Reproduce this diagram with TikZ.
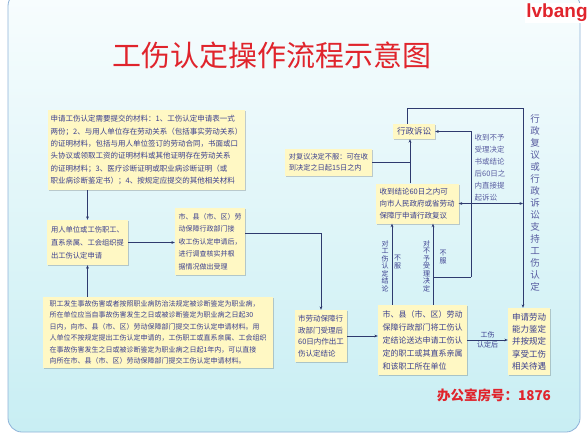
\documentclass[tikz,border=0pt]{standalone}
\usepackage{fontspec}
\setmainfont{Noto Sans CJK SC}
\newfontfamily\latinbold{Liberation Sans}
\usepackage{tikz}
\usetikzlibrary{arrows.meta,positioning,shadows}
\definecolor{boxyellow}{HTML}{FFF8C4}
\definecolor{txtblue}{HTML}{3B3F8F}
\definecolor{linkblue}{HTML}{2E3A6E}
\definecolor{titlered}{HTML}{E0242C}
\definecolor{bgtop}{HTML}{F8FDFE}
\definecolor{bgbottom}{HTML}{C8EEF3}
\definecolor{framec}{HTML}{8FB3D9}

\begin{document}
\begin{tikzpicture}[
      x=1pt, y=-1pt,
      ibox/.style={rectangle, fill=boxyellow, text=txtblue, align=left,
                   inner sep=2pt,
                   drop shadow={shadow xshift=1.3pt, shadow yshift=-1.3pt,
                                fill=black, opacity=0.18}},
      vtext/.style={text=txtblue, align=center, inner sep=0pt,
                    font=\fontsize{7}{7.5}\selectfont},
      lbl/.style={text=txtblue, inner sep=1.5pt,
                  font=\fontsize{7}{8}\selectfont},
      link/.style={-{Stealth[length=3.5pt, width=2.8pt]}, draw=linkblue,
                   line width=0.55pt},
      plainlink/.style={draw=linkblue, line width=0.55pt},
    ]
    \useasboundingbox (0,0) rectangle (588,437);
    \fill[white] (0,0) rectangle (588,437);
    \shadedraw[top color=bgtop, bottom color=bgbottom, draw=framec,
               line width=0.8pt, rounded corners=14pt] (8,-8) rectangle (580,432);

    \node[font=\fontsize{29}{29}\selectfont, text=titlered] (title) at (272,55)
      {工伤认定操作流程示意图};
    \node[font=\latinbold\bfseries\fontsize{19}{19}\selectfont, text=titlered,
          fill=white, inner sep=1pt] (mark) at (557,13) {lvbang};

    % left column
    \node[ibox, minimum width=197pt, minimum height=80pt,
          font=\fontsize{7.5}{12.3}\selectfont] (mat) at (146.5,150)
      {申请工伤认定需要提交的材料：1、工伤认定申请表一式\\
       两份；2、与用人单位存在劳动关系（包括事实劳动关系）\\
       的证明材料，包括与用人单位签订的劳动合同，书面或口\\
       头协议或领取工资的证明材料或其他证明存在劳动关系\\
       的证明材料；3、医疗诊断证明或职业病诊断证明（或\\
       职业病诊断鉴定书）；4、按规定应提交的其他相关材料};
    \node[ibox, minimum width=81pt, minimum height=45pt,
          font=\fontsize{7.3}{13}\selectfont] (apply) at (87.5,242.5)
      {用人单位或工伤职工、\\直系亲属、工会组织提\\出工伤认定申请};
    \node[ibox, minimum width=70pt, minimum height=67pt,
          font=\fontsize{7}{12.5}\selectfont] (accept) at (210,241.5)
      {市、县（市、区）劳\\动保障行政部门接\\收工伤认定申请后，\\进行调查核实并根\\据情况做出受理};
    \node[ibox, minimum width=230pt, minimum height=71pt,
          font=\fontsize{7}{11.5}\selectfont] (claim) at (158,332.5)
      {职工发生事故伤害或者按照职业病防治法规定被诊断鉴定为职业病，\\
       所在单位应当自事故伤害发生之日或被诊断鉴定为职业病之日起30\\
       日内，向市、县（市、区）劳动保障部门提交工伤认定申请材料。用\\
       人单位不按规定提出工伤认定申请的，工伤职工或直系亲属、工会组织\\
       在事故伤害发生之日或被诊断鉴定为职业病之日起1年内，可以直接\\
       向所在市、县（市、区）劳动保障部门提交工伤认定申请材料。};

    % middle and right
    \node[ibox, minimum width=52pt, minimum height=52pt,
          font=\fontsize{7.5}{11.5}\selectfont] (decide) at (321,336)
      {市劳动保障行\\政部门受理后\\60日内作出工\\伤认定结论};
    \node[ibox, minimum width=89pt, minimum height=70pt,
          font=\fontsize{8}{13}\selectfont] (notify) at (422.5,340)
      {市、县（市、区）劳动\\保障行政部门将工伤认\\定结论送达申请工伤认\\定的职工或其直系亲属\\和该职工所在单位};
    \node[ibox, minimum width=83pt, minimum height=40pt,
          font=\fontsize{7.5}{12}\selectfont] (review) at (417,203.5)
      {收到结论60日之内可\\向市人民政府或省劳动\\保障厅申请行政复议};
    \node[ibox, minimum width=42pt, minimum height=15pt,
          font=\fontsize{8.5}{9}\selectfont] (suit) at (414,131.5) {行政诉讼};
    \node[ibox, minimum width=87pt, minimum height=27pt,
          font=\fontsize{7.2}{11}\selectfont] (suitnote) at (328.5,162)
      {对复议决定不服：可在收\\到决定之日起15日之内};
    \node[text=txtblue!85, align=center, inner sep=0pt,
          font=\fontsize{9.5}{12}\selectfont] (support) at (535,203)
      {行\\政\\复\\议\\或\\行\\政\\诉\\讼\\支\\持\\工\\伤\\认\\定};
    \node[ibox, minimum width=42pt, minimum height=67pt,
          font=\fontsize{8.5}{12.3}\selectfont] (benefit) at (529,341.5)
      {申请劳动\\能力鉴定\\并按规定\\享受工伤\\相关待遇};

    \node[font=\bfseries\fontsize{13.5}{13.5}\selectfont, text=titlered]
      (office) at (494,395) {办公室房号：1876};

    % labels on the links
    \node[vtext] (lawlbl) at (385,266) {对\\工\\伤\\认\\定\\结\\论};
    \node[vtext] (lawno) at (397.5,262) {不\\服};
    \node[vtext] (refuselbl) at (426.5,266) {对\\不\\予\\受\\理\\决\\定};
    \node[vtext] (refuseno) at (443,257) {不\\服};
    \node[text=txtblue!85, align=left, inner sep=0pt,
          font=\fontsize{7.5}{12}\selectfont] (suelbl) at (490,168)
      {收到不予\\受理决定\\书或结论\\后60日之\\内直接提\\起诉讼};

    \coordinate (lawx) at (392,0);
    \coordinate (refuse) at (433,277);
    \coordinate (bend) at (471,277);
    \coordinate (rail) at (523,108);

    \draw[link] (mat.south -| apply.north) -- (apply.north);
    \draw[link] (claim.north -| apply.south) -- (apply.south);
    \draw[link] (apply.east) -- (apply.east -| accept.west);
    \draw[link] ([yshift=8pt]accept.east) -| (decide.north);
    \draw[link] (decide.east) -- (decide.east -| notify.west);
    \draw[link] (notify.east) -- (notify.east -| benefit.west)
      node[lbl, midway, above] {工伤} node[lbl, midway, below] {认定后};
    \draw[link] (notify.north -| lawx) -- (review.south -| lawx);
    \draw[link] (notify.north -| refuse) -- (review.south -| refuse);
    \draw[plainlink] (refuse) -- (bend);
    \draw[link] (bend) |- (suit.east);
    \draw[link] (bend |- review.east) -- (review.east);
    \draw[link] (bend |- review.east) -- (rail |- review.east);
    \draw[link] ([xshift=-4pt]review.north -| suit.south) -- ([xshift=-4pt]suit.south);
    \draw[plainlink] (suitnote.east) -- ([xshift=-4pt]suitnote.east -| suit.south);
    \draw[link] ([xshift=-7pt]suit.north) |- (rail) -- (rail |- benefit.north);
  \end{tikzpicture}
\end{document}
